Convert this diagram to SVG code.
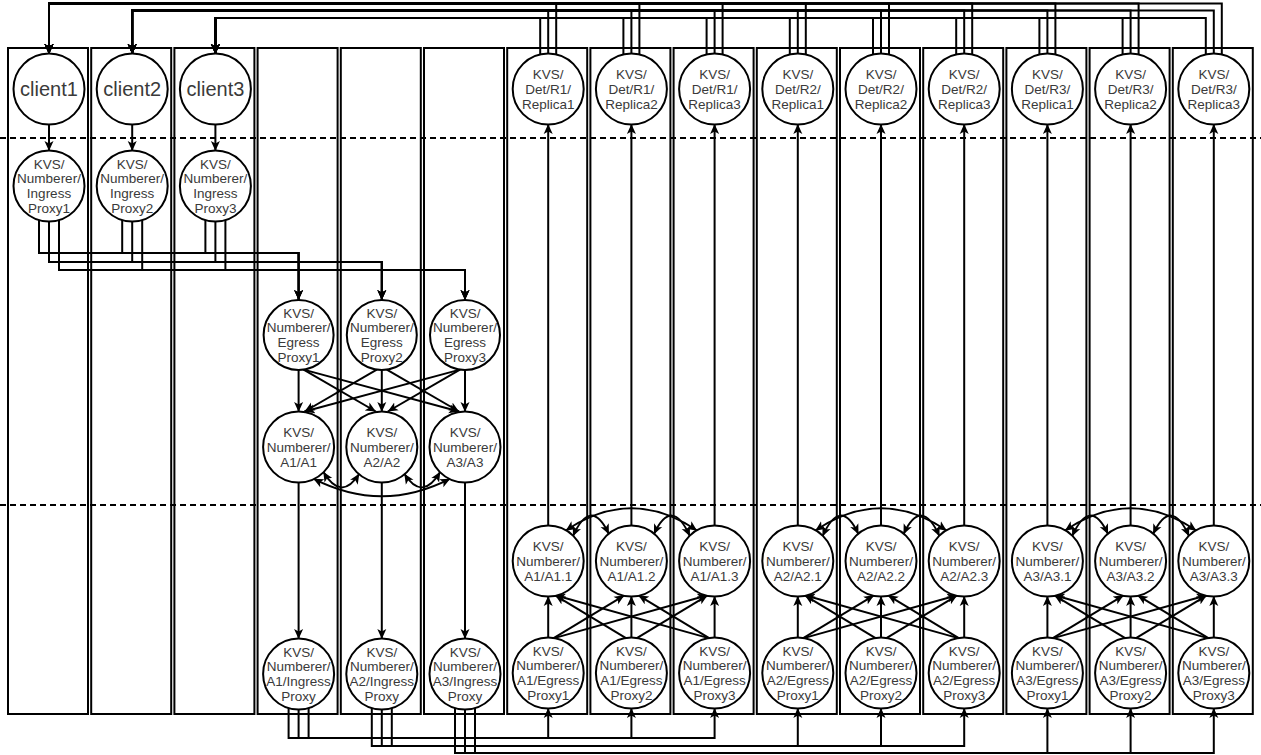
<svg xmlns="http://www.w3.org/2000/svg" width="1261" height="755" viewBox="0 0 1261 755">
<defs>
<style>
.box{fill:none;stroke:#000;stroke-width:2}
.dash{fill:none;stroke:#000;stroke-width:2;stroke-dasharray:6 4}
.n circle{fill:#fff;stroke:#000;stroke-width:2}
.n text{font-family:"Liberation Sans",Arial,Helvetica,sans-serif;font-size:13.5px;fill:#3a3a3a;text-anchor:middle}
.n text.big{font-size:20px}
.c path{fill:none;stroke:#000;stroke-width:2}
.c .a{marker-end:url(#ah)}
.c .b{marker-start:url(#ah);marker-end:url(#ah)}
</style>
<marker id="ah" viewBox="0 0 10 10" refX="10" refY="5" markerWidth="10" markerHeight="10" markerUnits="userSpaceOnUse" orient="auto-start-reverse">
<path d="M0,0.5 L10,5 L0,9.5 L2.5,5 Z" fill="#000"/>
</marker>
</defs>
<rect width="1261" height="755" fill="#fff"/>
<g id="columns">
<rect class="box" x="8" y="48" width="80" height="666"/>
<rect class="box" x="91.2" y="48" width="80" height="666"/>
<rect class="box" x="174.4" y="48" width="80" height="666"/>
<rect class="box" x="257.6" y="48" width="80" height="666"/>
<rect class="box" x="340.8" y="48" width="80" height="666"/>
<rect class="box" x="424" y="48" width="80" height="666"/>
<rect class="box" x="507.2" y="48" width="80" height="666"/>
<rect class="box" x="590.4" y="48" width="80" height="666"/>
<rect class="box" x="673.6" y="48" width="80" height="666"/>
<rect class="box" x="756.8" y="48" width="80" height="666"/>
<rect class="box" x="840" y="48" width="80" height="666"/>
<rect class="box" x="923.2" y="48" width="80" height="666"/>
<rect class="box" x="1006.4" y="48" width="80" height="666"/>
<rect class="box" x="1089.6" y="48" width="80" height="666"/>
<rect class="box" x="1172.8" y="48" width="80" height="666"/>
</g>
<g id="dividers">
<path class="dash" d="M0,138 H1261"/>
<path class="dash" d="M0,505 H1261"/>
</g>
<g id="connectors" class="c">
<path class="a" d="M556.2,55 V3.5 H49 V54"/>
<path class="a" d="M639.4,55 V3.5 H49 V54"/>
<path class="a" d="M722.6,55 V3.5 H49 V54"/>
<path class="a" d="M805.8,55 V3.5 H49 V54"/>
<path class="a" d="M889,55 V3.5 H49 V54"/>
<path class="a" d="M972.2,55 V3.5 H49 V54"/>
<path class="a" d="M1055.4,55 V3.5 H49 V54"/>
<path class="a" d="M1138.6,55 V3.5 H49 V54"/>
<path class="a" d="M1221.8,55 V3.5 H49 V54"/>
<path class="a" d="M548.2,54 V10.5 H132.2 V54"/>
<path class="a" d="M631.4,54 V10.5 H132.2 V54"/>
<path class="a" d="M714.6,54 V10.5 H132.2 V54"/>
<path class="a" d="M797.8,54 V10.5 H132.2 V54"/>
<path class="a" d="M881,54 V10.5 H132.2 V54"/>
<path class="a" d="M964.2,54 V10.5 H132.2 V54"/>
<path class="a" d="M1047.4,54 V10.5 H132.2 V54"/>
<path class="a" d="M1130.6,54 V10.5 H132.2 V54"/>
<path class="a" d="M1213.8,54 V10.5 H132.2 V54"/>
<path class="a" d="M540.2,55 V18 H215.4 V54"/>
<path class="a" d="M623.4,55 V18 H215.4 V54"/>
<path class="a" d="M706.6,55 V18 H215.4 V54"/>
<path class="a" d="M789.8,55 V18 H215.4 V54"/>
<path class="a" d="M873,55 V18 H215.4 V54"/>
<path class="a" d="M956.2,55 V18 H215.4 V54"/>
<path class="a" d="M1039.4,55 V18 H215.4 V54"/>
<path class="a" d="M1122.6,55 V18 H215.4 V54"/>
<path class="a" d="M1205.8,55 V18 H215.4 V54"/>
<path class="a" d="M49,124 V151"/>
<path class="a" d="M132.2,124 V151"/>
<path class="a" d="M215.4,124 V151"/>
<path class="a" d="M39,219.5 V253 H298.6 V300"/>
<path class="a" d="M122.2,219.5 V253 H298.6 V300"/>
<path class="a" d="M205.4,219.5 V253 H298.6 V300"/>
<path class="a" d="M49,221 V262 H381.8 V300"/>
<path class="a" d="M132.2,221 V262 H381.8 V300"/>
<path class="a" d="M215.4,221 V262 H381.8 V300"/>
<path class="a" d="M59,219.5 V270 H465 V300"/>
<path class="a" d="M142.2,219.5 V270 H465 V300"/>
<path class="a" d="M225.4,219.5 V270 H465 V300"/>
<path class="a" d="M298.6,370 V412"/>
<path class="a" d="M303.6,369.6 L375.8,411.5"/>
<path class="a" d="M303.6,369.6 L459,411.5"/>
<path class="a" d="M376.8,369.6 L304.6,411.5"/>
<path class="a" d="M381.8,370 V412"/>
<path class="a" d="M386.8,369.6 L459,411.5"/>
<path class="a" d="M460,369.6 L304.6,411.5"/>
<path class="a" d="M460,369.6 L387.8,411.5"/>
<path class="a" d="M465,370 V412"/>
<path class="b" d="M323.3,471.7 Q341.3,502 359.3,473.8"/>
<path class="b" d="M404.3,473.8 Q422.3,502 440.3,471.7"/>
<path class="b" d="M313.4,478.7 Q381.8,514 450.2,478.7"/>
<path class="a" d="M298.6,482 V639"/>
<path class="a" d="M381.8,482 V639"/>
<path class="a" d="M465,482 V639"/>
<path class="a" d="M288.6,707.5 V738 H548.2 V708"/>
<path class="a" d="M298.6,709 V738 H631.4 V708"/>
<path class="a" d="M308.6,707.5 V738 H714.6 V708"/>
<path class="a" d="M371.8,707.5 V746 H797.8 V708"/>
<path class="a" d="M381.8,709 V746 H881 V708"/>
<path class="a" d="M391.8,707.5 V746 H964.2 V708"/>
<path class="a" d="M455,707.5 V753 H1047.4 V708"/>
<path class="a" d="M465,709 V753 H1130.6 V708"/>
<path class="a" d="M475,707.5 V753 H1213.8 V708"/>
<path class="a" d="M548.2,638 V596"/>
<path class="a" d="M553.2,638.4 L624.4,595.3"/>
<path class="a" d="M553.2,638.4 L707.6,595.3"/>
<path class="a" d="M626.4,638.4 L555.2,595.3"/>
<path class="a" d="M631.4,638 V596"/>
<path class="a" d="M636.4,638.4 L707.6,595.3"/>
<path class="a" d="M709.6,638.4 L555.2,595.3"/>
<path class="a" d="M709.6,638.4 L638.4,595.3"/>
<path class="a" d="M714.6,638 V596"/>
<path class="a" d="M797.8,638 V596"/>
<path class="a" d="M802.8,638.4 L874,595.3"/>
<path class="a" d="M802.8,638.4 L957.2,595.3"/>
<path class="a" d="M876,638.4 L804.8,595.3"/>
<path class="a" d="M881,638 V596"/>
<path class="a" d="M886,638.4 L957.2,595.3"/>
<path class="a" d="M959.2,638.4 L804.8,595.3"/>
<path class="a" d="M959.2,638.4 L888,595.3"/>
<path class="a" d="M964.2,638 V596"/>
<path class="a" d="M1047.4,638 V596"/>
<path class="a" d="M1052.4,638.4 L1123.6,595.3"/>
<path class="a" d="M1052.4,638.4 L1206.8,595.3"/>
<path class="a" d="M1125.6,638.4 L1054.4,595.3"/>
<path class="a" d="M1130.6,638 V596"/>
<path class="a" d="M1135.6,638.4 L1206.8,595.3"/>
<path class="a" d="M1208.8,638.4 L1054.4,595.3"/>
<path class="a" d="M1208.8,638.4 L1137.6,595.3"/>
<path class="a" d="M1213.8,638 V596"/>
<path class="b" d="M565.7,530.7 Q631.4,486 697.1,530.7"/>
<path class="b" d="M572.9,536.3 Q590.9,496 608.9,534.2"/>
<path class="b" d="M653.9,534.2 Q671.9,496 689.9,536.3"/>
<path class="b" d="M815.3,530.7 Q881,486 946.7,530.7"/>
<path class="b" d="M822.5,536.3 Q840.5,496 858.5,534.2"/>
<path class="b" d="M903.5,534.2 Q921.5,496 939.5,536.3"/>
<path class="b" d="M1064.9,530.7 Q1130.6,486 1196.3,530.7"/>
<path class="b" d="M1072.1,536.3 Q1090.1,496 1108.1,534.2"/>
<path class="b" d="M1153.1,534.2 Q1171.1,496 1189.1,536.3"/>
<path class="a" d="M548.2,526 V124"/>
<path class="a" d="M631.4,526 V124"/>
<path class="a" d="M714.6,526 V124"/>
<path class="a" d="M797.8,526 V124"/>
<path class="a" d="M881,526 V124"/>
<path class="a" d="M964.2,526 V124"/>
<path class="a" d="M1047.4,526 V124"/>
<path class="a" d="M1130.6,526 V124"/>
<path class="a" d="M1213.8,526 V124"/>
</g>
<g id="client1" class="n" transform="translate(49,89)"><circle r="35.5"/><text class="big" y="7">client1</text></g>
<g id="client2" class="n" transform="translate(132.2,89)"><circle r="35.5"/><text class="big" y="7">client2</text></g>
<g id="client3" class="n" transform="translate(215.4,89)"><circle r="35.5"/><text class="big" y="7">client3</text></g>
<g id="ingress1" class="n" transform="translate(49,186)"><circle r="35.5"/><text><tspan x="0" y="-17.2">KVS/</tspan><tspan x="0" y="-2.6">Numberer/</tspan><tspan x="0" y="12">Ingress</tspan><tspan x="0" y="26.6">Proxy1</tspan></text></g>
<g id="ingress2" class="n" transform="translate(132.2,186)"><circle r="35.5"/><text><tspan x="0" y="-17.2">KVS/</tspan><tspan x="0" y="-2.6">Numberer/</tspan><tspan x="0" y="12">Ingress</tspan><tspan x="0" y="26.6">Proxy2</tspan></text></g>
<g id="ingress3" class="n" transform="translate(215.4,186)"><circle r="35.5"/><text><tspan x="0" y="-17.2">KVS/</tspan><tspan x="0" y="-2.6">Numberer/</tspan><tspan x="0" y="12">Ingress</tspan><tspan x="0" y="26.6">Proxy3</tspan></text></g>
<g id="egress1" class="n" transform="translate(298.6,335)"><circle r="35"/><text><tspan x="0" y="-17.2">KVS/</tspan><tspan x="0" y="-2.6">Numberer/</tspan><tspan x="0" y="12">Egress</tspan><tspan x="0" y="26.6">Proxy1</tspan></text></g>
<g id="egress2" class="n" transform="translate(381.8,335)"><circle r="35"/><text><tspan x="0" y="-17.2">KVS/</tspan><tspan x="0" y="-2.6">Numberer/</tspan><tspan x="0" y="12">Egress</tspan><tspan x="0" y="26.6">Proxy2</tspan></text></g>
<g id="egress3" class="n" transform="translate(465,335)"><circle r="35"/><text><tspan x="0" y="-17.2">KVS/</tspan><tspan x="0" y="-2.6">Numberer/</tspan><tspan x="0" y="12">Egress</tspan><tspan x="0" y="26.6">Proxy3</tspan></text></g>
<g id="a1" class="n" transform="translate(298.6,447)"><circle r="35.5"/><text><tspan x="0" y="-10.3">KVS/</tspan><tspan x="0" y="4.7">Numberer/</tspan><tspan x="0" y="19.7">A1/A1</tspan></text></g>
<g id="a2" class="n" transform="translate(381.8,447)"><circle r="35.5"/><text><tspan x="0" y="-10.3">KVS/</tspan><tspan x="0" y="4.7">Numberer/</tspan><tspan x="0" y="19.7">A2/A2</tspan></text></g>
<g id="a3" class="n" transform="translate(465,447)"><circle r="35.5"/><text><tspan x="0" y="-10.3">KVS/</tspan><tspan x="0" y="4.7">Numberer/</tspan><tspan x="0" y="19.7">A3/A3</tspan></text></g>
<g id="a1-ingress" class="n" transform="translate(298.6,674)"><circle r="35.5"/><text><tspan x="0" y="-17.2">KVS/</tspan><tspan x="0" y="-2.6">Numberer/</tspan><tspan x="0" y="12">A1/Ingress</tspan><tspan x="0" y="26.6">Proxy</tspan></text></g>
<g id="a2-ingress" class="n" transform="translate(381.8,674)"><circle r="35.5"/><text><tspan x="0" y="-17.2">KVS/</tspan><tspan x="0" y="-2.6">Numberer/</tspan><tspan x="0" y="12">A2/Ingress</tspan><tspan x="0" y="26.6">Proxy</tspan></text></g>
<g id="a3-ingress" class="n" transform="translate(465,674)"><circle r="35.5"/><text><tspan x="0" y="-17.2">KVS/</tspan><tspan x="0" y="-2.6">Numberer/</tspan><tspan x="0" y="12">A3/Ingress</tspan><tspan x="0" y="26.6">Proxy</tspan></text></g>
<g id="r1-rep1" class="n" transform="translate(548.2,89)"><circle r="35.5"/><text><tspan x="0" y="-10.3">KVS/</tspan><tspan x="0" y="4.7">Det/R1/</tspan><tspan x="0" y="19.7">Replica1</tspan></text></g>
<g id="r1-rep2" class="n" transform="translate(631.4,89)"><circle r="35.5"/><text><tspan x="0" y="-10.3">KVS/</tspan><tspan x="0" y="4.7">Det/R1/</tspan><tspan x="0" y="19.7">Replica2</tspan></text></g>
<g id="r1-rep3" class="n" transform="translate(714.6,89)"><circle r="35.5"/><text><tspan x="0" y="-10.3">KVS/</tspan><tspan x="0" y="4.7">Det/R1/</tspan><tspan x="0" y="19.7">Replica3</tspan></text></g>
<g id="r2-rep1" class="n" transform="translate(797.8,89)"><circle r="35.5"/><text><tspan x="0" y="-10.3">KVS/</tspan><tspan x="0" y="4.7">Det/R2/</tspan><tspan x="0" y="19.7">Replica1</tspan></text></g>
<g id="r2-rep2" class="n" transform="translate(881,89)"><circle r="35.5"/><text><tspan x="0" y="-10.3">KVS/</tspan><tspan x="0" y="4.7">Det/R2/</tspan><tspan x="0" y="19.7">Replica2</tspan></text></g>
<g id="r2-rep3" class="n" transform="translate(964.2,89)"><circle r="35.5"/><text><tspan x="0" y="-10.3">KVS/</tspan><tspan x="0" y="4.7">Det/R2/</tspan><tspan x="0" y="19.7">Replica3</tspan></text></g>
<g id="r3-rep1" class="n" transform="translate(1047.4,89)"><circle r="35.5"/><text><tspan x="0" y="-10.3">KVS/</tspan><tspan x="0" y="4.7">Det/R3/</tspan><tspan x="0" y="19.7">Replica1</tspan></text></g>
<g id="r3-rep2" class="n" transform="translate(1130.6,89)"><circle r="35.5"/><text><tspan x="0" y="-10.3">KVS/</tspan><tspan x="0" y="4.7">Det/R3/</tspan><tspan x="0" y="19.7">Replica2</tspan></text></g>
<g id="r3-rep3" class="n" transform="translate(1213.8,89)"><circle r="35.5"/><text><tspan x="0" y="-10.3">KVS/</tspan><tspan x="0" y="4.7">Det/R3/</tspan><tspan x="0" y="19.7">Replica3</tspan></text></g>
<g id="a1-1" class="n" transform="translate(548.2,561)"><circle r="35.5"/><text><tspan x="0" y="-10.3">KVS/</tspan><tspan x="0" y="4.7">Numberer/</tspan><tspan x="0" y="19.7">A1/A1.1</tspan></text></g>
<g id="a1-2" class="n" transform="translate(631.4,561)"><circle r="35.5"/><text><tspan x="0" y="-10.3">KVS/</tspan><tspan x="0" y="4.7">Numberer/</tspan><tspan x="0" y="19.7">A1/A1.2</tspan></text></g>
<g id="a1-3" class="n" transform="translate(714.6,561)"><circle r="35.5"/><text><tspan x="0" y="-10.3">KVS/</tspan><tspan x="0" y="4.7">Numberer/</tspan><tspan x="0" y="19.7">A1/A1.3</tspan></text></g>
<g id="a2-1" class="n" transform="translate(797.8,561)"><circle r="35.5"/><text><tspan x="0" y="-10.3">KVS/</tspan><tspan x="0" y="4.7">Numberer/</tspan><tspan x="0" y="19.7">A2/A2.1</tspan></text></g>
<g id="a2-2" class="n" transform="translate(881,561)"><circle r="35.5"/><text><tspan x="0" y="-10.3">KVS/</tspan><tspan x="0" y="4.7">Numberer/</tspan><tspan x="0" y="19.7">A2/A2.2</tspan></text></g>
<g id="a2-3" class="n" transform="translate(964.2,561)"><circle r="35.5"/><text><tspan x="0" y="-10.3">KVS/</tspan><tspan x="0" y="4.7">Numberer/</tspan><tspan x="0" y="19.7">A2/A2.3</tspan></text></g>
<g id="a3-1" class="n" transform="translate(1047.4,561)"><circle r="35.5"/><text><tspan x="0" y="-10.3">KVS/</tspan><tspan x="0" y="4.7">Numberer/</tspan><tspan x="0" y="19.7">A3/A3.1</tspan></text></g>
<g id="a3-2" class="n" transform="translate(1130.6,561)"><circle r="35.5"/><text><tspan x="0" y="-10.3">KVS/</tspan><tspan x="0" y="4.7">Numberer/</tspan><tspan x="0" y="19.7">A3/A3.2</tspan></text></g>
<g id="a3-3" class="n" transform="translate(1213.8,561)"><circle r="35.5"/><text><tspan x="0" y="-10.3">KVS/</tspan><tspan x="0" y="4.7">Numberer/</tspan><tspan x="0" y="19.7">A3/A3.3</tspan></text></g>
<g id="a1-egress1" class="n" transform="translate(548.2,673)"><circle r="35.5"/><text><tspan x="0" y="-17.2">KVS/</tspan><tspan x="0" y="-2.6">Numberer/</tspan><tspan x="0" y="12">A1/Egress</tspan><tspan x="0" y="26.6">Proxy1</tspan></text></g>
<g id="a1-egress2" class="n" transform="translate(631.4,673)"><circle r="35.5"/><text><tspan x="0" y="-17.2">KVS/</tspan><tspan x="0" y="-2.6">Numberer/</tspan><tspan x="0" y="12">A1/Egress</tspan><tspan x="0" y="26.6">Proxy2</tspan></text></g>
<g id="a1-egress3" class="n" transform="translate(714.6,673)"><circle r="35.5"/><text><tspan x="0" y="-17.2">KVS/</tspan><tspan x="0" y="-2.6">Numberer/</tspan><tspan x="0" y="12">A1/Egress</tspan><tspan x="0" y="26.6">Proxy3</tspan></text></g>
<g id="a2-egress1" class="n" transform="translate(797.8,673)"><circle r="35.5"/><text><tspan x="0" y="-17.2">KVS/</tspan><tspan x="0" y="-2.6">Numberer/</tspan><tspan x="0" y="12">A2/Egress</tspan><tspan x="0" y="26.6">Proxy1</tspan></text></g>
<g id="a2-egress2" class="n" transform="translate(881,673)"><circle r="35.5"/><text><tspan x="0" y="-17.2">KVS/</tspan><tspan x="0" y="-2.6">Numberer/</tspan><tspan x="0" y="12">A2/Egress</tspan><tspan x="0" y="26.6">Proxy2</tspan></text></g>
<g id="a2-egress3" class="n" transform="translate(964.2,673)"><circle r="35.5"/><text><tspan x="0" y="-17.2">KVS/</tspan><tspan x="0" y="-2.6">Numberer/</tspan><tspan x="0" y="12">A2/Egress</tspan><tspan x="0" y="26.6">Proxy3</tspan></text></g>
<g id="a3-egress1" class="n" transform="translate(1047.4,673)"><circle r="35.5"/><text><tspan x="0" y="-17.2">KVS/</tspan><tspan x="0" y="-2.6">Numberer/</tspan><tspan x="0" y="12">A3/Egress</tspan><tspan x="0" y="26.6">Proxy1</tspan></text></g>
<g id="a3-egress2" class="n" transform="translate(1130.6,673)"><circle r="35.5"/><text><tspan x="0" y="-17.2">KVS/</tspan><tspan x="0" y="-2.6">Numberer/</tspan><tspan x="0" y="12">A3/Egress</tspan><tspan x="0" y="26.6">Proxy2</tspan></text></g>
<g id="a3-egress3" class="n" transform="translate(1213.8,673)"><circle r="35.5"/><text><tspan x="0" y="-17.2">KVS/</tspan><tspan x="0" y="-2.6">Numberer/</tspan><tspan x="0" y="12">A3/Egress</tspan><tspan x="0" y="26.6">Proxy3</tspan></text></g>
</svg>
